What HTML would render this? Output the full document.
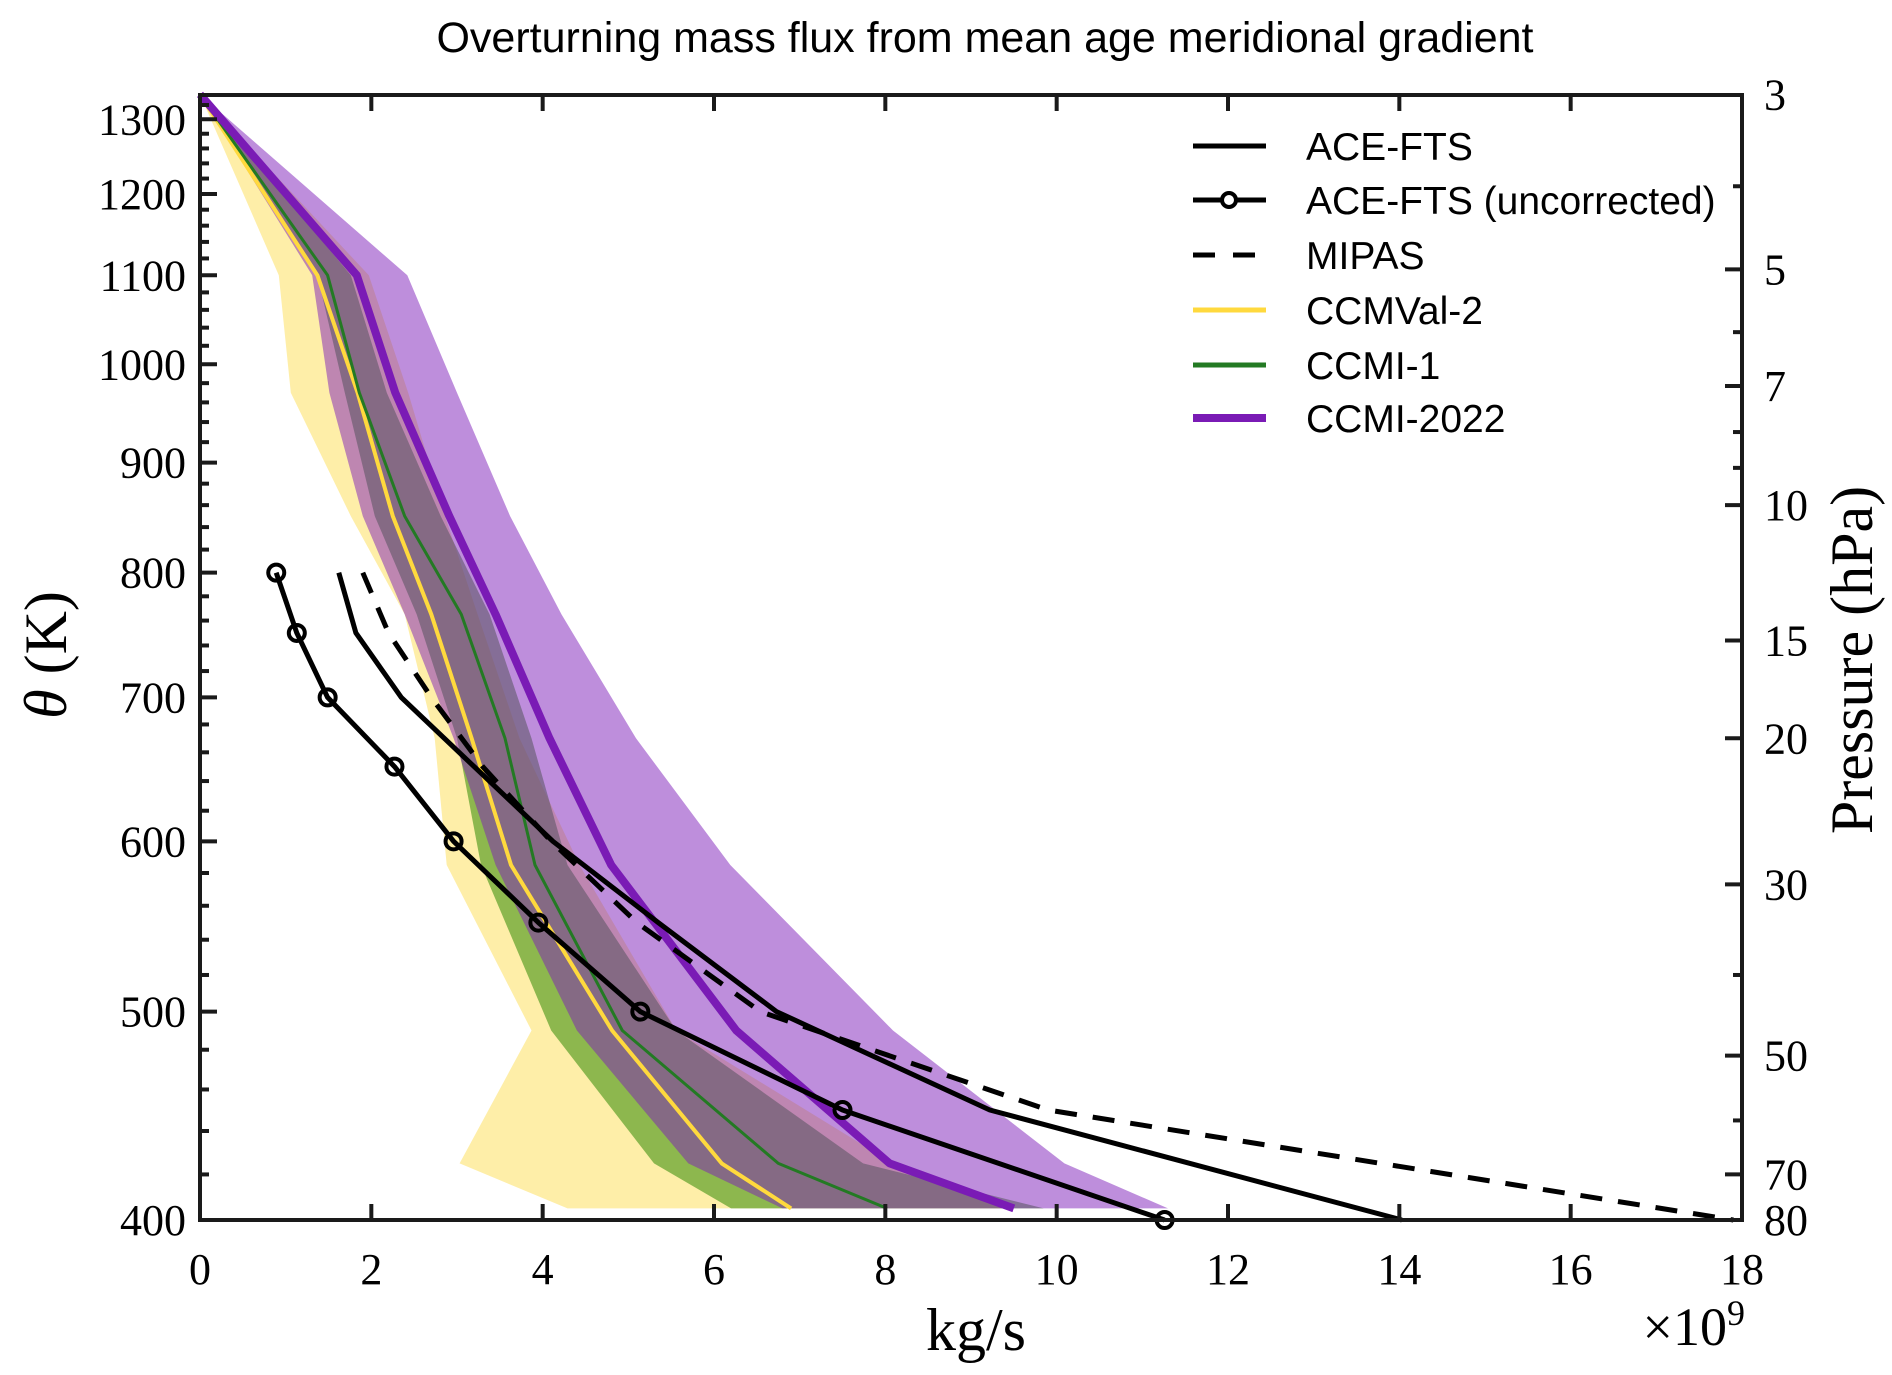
<!DOCTYPE html>
<html><head><meta charset="utf-8">
<style>
html,body{margin:0;padding:0;background:#fff;}
svg{display:block;}
.sans{font-family:"Liberation Sans",sans-serif;}
.serif{font-family:"Liberation Serif",serif;}
</style></head>
<body>
<svg id="chart" width="1892" height="1375" viewBox="0 0 1892 1375" xmlns="http://www.w3.org/2000/svg">
<text class="sans" x="985" y="52" font-size="43" text-anchor="middle">Overturning mass flux from mean age meridional gradient</text>
<g id="bands"></g>
<g id="lines"></g>
<g id="axes"></g>
<g id="legend"></g>
</svg>
<script>
// ---- data ----
const modelTheta = [1335, 1100, 970, 850, 765, 670, 585, 490, 425, 405];
const ccmval2Mean = [0, 1.37, 1.84, 2.25, 2.70, 3.17, 3.63, 4.81, 6.09, 6.90];
const ccmval2Lo   = [0, 0.92, 1.06, 1.76, 2.39, 2.74, 2.88, 3.87, 3.03, 4.29];
const ccmval2Hi   = [0, 1.97, 2.43, 2.86, 3.24, 3.73, 4.43, 5.56, 8.09, 9.40];
const ccmi1Mean   = [0, 1.49, 1.86, 2.39, 3.05, 3.56, 3.91, 4.93, 6.75, 8.02];
const ccmi1Lo     = [0, 1.37, 1.69, 2.04, 2.53, 3.00, 3.28, 4.10, 5.30, 6.20];
const ccmi1Hi     = [0, 1.76, 2.18, 2.81, 3.38, 3.87, 4.29, 5.56, 7.74, 9.85];
const ccmi22Mean  = [0, 1.83, 2.28, 2.91, 3.45, 4.08, 4.80, 6.26, 8.05, 9.50];
const ccmi22Lo    = [0, 1.31, 1.51, 1.90, 2.39, 2.96, 3.45, 4.40, 5.70, 6.80];
const ccmi22Hi    = [0, 2.42, 3.00, 3.62, 4.22, 5.09, 6.19, 8.09, 10.09, 11.30];
const obsTheta = [800, 750, 700, 650, 600, 550, 500, 450, 400];
const aceFts      = [1.62, 1.82, 2.35, 3.20, 4.12, 5.35, 6.73, 9.22, 14.03];
const aceFtsUncor = [0.89, 1.13, 1.49, 2.27, 2.96, 3.95, 5.14, 7.50, 11.26];
const mipas       = [1.90, 2.20, 2.70, 3.30, 4.10, 5.10, 6.54, 9.90, 17.90];
const xTicks = [0, 2, 4, 6, 8, 10, 12, 14, 16, 18];
const yTicks = [400, 500, 600, 700, 800, 900, 1000, 1100, 1200, 1300];
const pLabels = ["3", "5", "7", "10", "15", "20", "30", "50", "70", "80"];
const pTheta  = [1335, 1107, 977, 860, 744, 670, 573, 477, 420, 400];
const pMinorTheta = [1210, 1035, 930, 895, 520, 445];

// ---- axes functions ----
const X0 = 200, X1 = 1742, Y0 = 95, Y1 = 1220;
const xs = v => X0 + v * (X1 - X0) / 18;
const ys = t => Y1 - 933.9 * Math.log(t / 400);
const NS = "http://www.w3.org/2000/svg";
function mk(tag, attrs, parent) {
  const e = document.createElementNS(NS, tag);
  for (const k in attrs) e.setAttribute(k, attrs[k]);
  parent.appendChild(e);
  return e;
}
const bands = document.getElementById('bands');
const lines = document.getElementById('lines');
const axes = document.getElementById('axes');
const legend = document.getElementById('legend');

function bandPath(lo, hi, th) {
  let d = '';
  for (let i = 0; i < th.length; i++) d += (i ? 'L' : 'M') + xs(hi[i]).toFixed(1) + ',' + ys(th[i]).toFixed(1);
  for (let i = th.length - 1; i >= 0; i--) d += 'L' + xs(lo[i]).toFixed(1) + ',' + ys(th[i]).toFixed(1);
  return d + 'Z';
}
function linePts(vals, th) {
  return vals.map((v, i) => xs(v).toFixed(1) + ',' + ys(th[i]).toFixed(1)).join(' ');
}

let b;
b = mk('path', {d: bandPath(ccmval2Lo, ccmval2Hi, modelTheta), fill: 'rgba(252,205,0,0.34)'}, bands);


b = mk('path', {d: bandPath(ccmi1Lo, ccmi1Hi, modelTheta), fill: 'rgba(55,140,10,0.57)'}, bands);


b = mk('path', {d: bandPath(ccmi22Lo, ccmi22Hi, modelTheta), fill: 'rgba(125,30,185,0.5)'}, bands);



let l;
l = mk('polyline', {points: linePts(ccmval2Mean, modelTheta), fill: 'none', stroke: '#ffd93d', 'stroke-width': 4, 'stroke-linejoin': 'round'}, lines);


l = mk('polyline', {points: linePts(ccmi1Mean, modelTheta), fill: 'none', stroke: '#237a23', 'stroke-width': 3, 'stroke-linejoin': 'round'}, lines);


l = mk('polyline', {points: linePts(ccmi22Mean, modelTheta), fill: 'none', stroke: '#7a1bb5', 'stroke-width': 8, 'stroke-linejoin': 'round'}, lines);


l = mk('polyline', {points: linePts(mipas, obsTheta), fill: 'none', stroke: '#000', 'stroke-width': 5, 'stroke-dasharray': '22,16'}, lines);


l = mk('polyline', {points: linePts(aceFts, obsTheta), fill: 'none', stroke: '#000', 'stroke-width': 5, 'stroke-linejoin': 'round'}, lines);


l = mk('polyline', {points: linePts(aceFtsUncor, obsTheta), fill: 'none', stroke: '#000', 'stroke-width': 5, 'stroke-linejoin': 'round'}, lines);


aceFtsUncor.forEach((v, i) => {
  const c = mk('circle', {cx: xs(v), cy: ys(obsTheta[i]), r: 8, fill: 'none', stroke: '#000', 'stroke-width': 4}, lines);
  
  
});

// frame
const fr = mk('rect', {x: X0, y: Y0, width: X1 - X0, height: Y1 - Y0, fill: 'none', stroke: '#1a1a1a', 'stroke-width': 4}, axes);



// x ticks
xTicks.forEach(v => {
  const x = xs(v);
  if (v > 0 && v < 18) {
    mk('line', {x1: x, y1: Y1, x2: x, y2: Y1 - 16, stroke: '#1a1a1a', 'stroke-width': 4}, axes);
    mk('line', {x1: x, y1: Y0, x2: x, y2: Y0 + 16, stroke: '#1a1a1a', 'stroke-width': 4}, axes);
  }
  const t = mk('text', {x: x, y: 1284, 'font-size': 44, 'text-anchor': 'middle', class: 'serif'}, axes);
  t.textContent = v;
  
  
});
// y ticks (left)
for (let th = 400; th <= 1320; th += 20) {
  const y = ys(th);
  const major = th % 100 === 0;
  mk('line', {x1: X0, y1: y, x2: X0 + (major ? 17 : 9), y2: y, stroke: '#1a1a1a', 'stroke-width': 4}, axes);
}
yTicks.forEach(th => {
  const t = mk('text', {x: 186, y: ys(th) + 15, 'font-size': 44, 'text-anchor': 'end', class: 'serif'}, axes);
  t.textContent = th;
  
  
});
// right pressure ticks
pTheta.forEach((th, i) => {
  const y = ys(th);
  if (i > 0 && i < pTheta.length - 1) mk('line', {x1: X1, y1: y, x2: X1 - 17, y2: y, stroke: '#1a1a1a', 'stroke-width': 4}, axes);
  const t = mk('text', {x: 1764, y: y + 15, 'font-size': 44, 'text-anchor': 'start', class: 'serif'}, axes);
  t.textContent = pLabels[i];
  
  
});
pMinorTheta.forEach(th => {
  const y = ys(th);
  mk('line', {x1: X1, y1: y, x2: X1 - 9, y2: y, stroke: '#1a1a1a', 'stroke-width': 4}, axes);
});

// axis titles
let at = mk('text', {x: 976, y: 1350, 'font-size': 60, 'text-anchor': 'middle', class: 'serif'}, axes);
at.textContent = 'kg/s';


at = mk('text', {x: 1745, y: 1345, 'font-size': 54, 'text-anchor': 'end', class: 'serif'}, axes);
at.innerHTML = '×10<tspan dy="-20" font-size="36">9</tspan>';


at = mk('text', {x: 0, y: 0, 'font-size': 60, 'text-anchor': 'middle', class: 'serif', transform: 'translate(66,655) rotate(-90)'}, axes);
at.innerHTML = '<tspan font-style="italic">θ</tspan> (K)';


at = mk('text', {x: 0, y: 0, 'font-size': 60, 'text-anchor': 'middle', class: 'serif', transform: 'translate(1872,660) rotate(-90)'}, axes);
at.textContent = 'Pressure (hPa)';



// legend
const legNames = ['ACE-FTS', 'ACE-FTS (uncorrected)', 'MIPAS', 'CCMVal-2', 'CCMI-1', 'CCMI-2022'];
const legY = [146, 200, 255, 310, 365, 418];
const legStyle = [
  {stroke: '#000', w: 5}, {stroke: '#000', w: 5, marker: true}, {stroke: '#000', w: 5, dash: '22,18'},
  {stroke: '#ffd93d', w: 5}, {stroke: '#237a23', w: 5}, {stroke: '#7a1bb5', w: 8}
];
legNames.forEach((n, i) => {
  const s = legStyle[i];
  const g = mk('g', {}, legend);
  
  
  const a = {x1: 1193, y1: legY[i], x2: 1266, y2: legY[i], stroke: s.stroke, 'stroke-width': s.w};
  if (s.dash) a['stroke-dasharray'] = s.dash;
  mk('line', a, g);
  if (s.marker) mk('circle', {cx: 1229, cy: legY[i], r: 7, fill: '#fff', stroke: '#000', 'stroke-width': 4}, g);
  const t = mk('text', {x: 1306, y: legY[i] + 14, 'font-size': 39, class: 'sans'}, g);
  t.textContent = n;
});
</script>
</body></html>
